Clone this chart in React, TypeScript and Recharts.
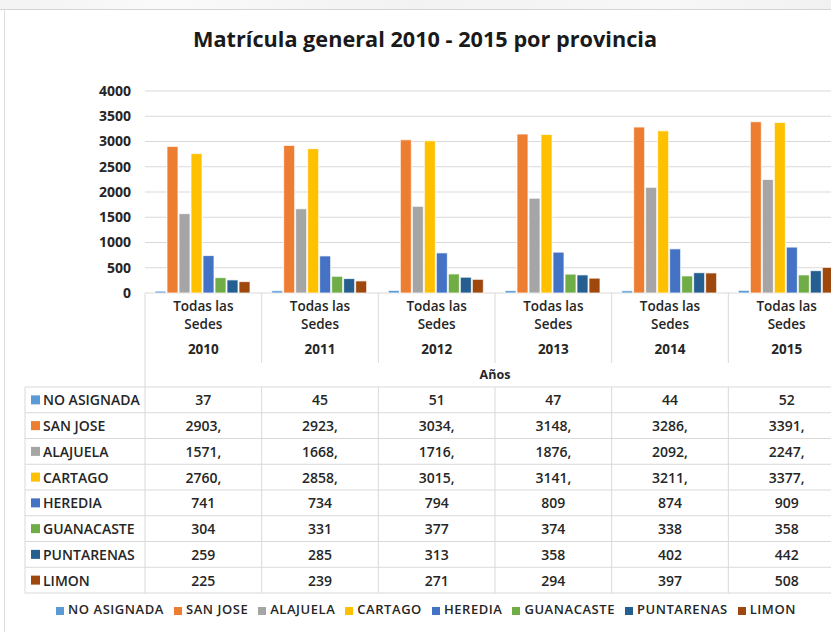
import React from "react";
import { BarChart, Bar, XAxis, YAxis, CartesianGrid, Legend } from "recharts";

// categories and tick labels
const years = ["2010", "2011", "2012", "2013", "2014", "2015"];
const sedeLines = ["Todas las", "Sedes"];
const yTicks = [0, 500, 1000, 1500, 2000, 2500, 3000, 3500, 4000];

// series values
const noAsignada = [37, 45, 51, 47, 44, 52];
const sanJose = [2903, 2923, 3034, 3148, 3286, 3391];
const alajuela = [1571, 1668, 1716, 1876, 2092, 2247];
const cartago = [2760, 2858, 3015, 3141, 3211, 3377];
const heredia = [741, 734, 794, 809, 874, 909];
const guanacaste = [304, 331, 377, 374, 338, 358];
const puntarenas = [259, 285, 313, 358, 402, 442];
const limon = [225, 239, 271, 294, 397, 508];

const series = [
  { key: "noAsignada", name: "NO ASIGNADA", color: "#5B9BD5", values: noAsignada },
  { key: "sanJose", name: "SAN JOSE", color: "#ED7D31", values: sanJose },
  { key: "alajuela", name: "ALAJUELA", color: "#A5A5A5", values: alajuela },
  { key: "cartago", name: "CARTAGO", color: "#FFC000", values: cartago },
  { key: "heredia", name: "HEREDIA", color: "#4472C4", values: heredia },
  { key: "guanacaste", name: "GUANACASTE", color: "#70AD47", values: guanacaste },
  { key: "puntarenas", name: "PUNTARENAS", color: "#255E91", values: puntarenas },
  { key: "limon", name: "LIMON", color: "#9E480E", values: limon },
];

const data = years.map((year, i) => {
  const row: Record<string, string | number> = { year };
  series.forEach(s => { row[s.key] = s.values[i]; });
  return row;
});

// layout
const CHART_W = 846;
const CHART_H = 632;
const PLOT_LEFT = 145;
const PLOT_TOP = 91;
const PLOT_BOTTOM = 293;
const Y_AXIS_W = 60;
const BAND = (CHART_W - 1 - PLOT_LEFT) / years.length;
const TABLE_TOP = 387;
const ROW_H = 25.75;
const TABLE_BOTTOM = TABLE_TOP + ROW_H * series.length;
const LINE = "#d9d9d9";
const TEXT = "#262626";
const FONT = "'Open Sans', 'Noto Sans', sans-serif";

// Excel shows truncated decimals as "2903,"
const fmt = (v: number) => (v >= 1000 ? `${v},` : `${v}`);

function YearTick(props: any) {
  const { x, y, payload, index } = props;
  const left = x - BAND / 2;
  return (
    <g>
      <line x1={left} x2={left} y1={y} y2={index === 0 ? TABLE_TOP : 363} stroke={LINE} />
      {sedeLines.map((t, k) => (
        <text key={k} x={x} y={306 + k * 18} textAnchor="middle" dominantBaseline="central"
          fontSize={13.5} fontWeight={600} fill={TEXT} fontFamily={FONT}>{t}</text>
      ))}
      <text x={x} y={349} textAnchor="middle" dominantBaseline="central"
        fontSize={13.5} fontWeight={700} fill={TEXT} fontFamily={FONT}>{payload.value}</text>
      <line x1={left} x2={left} y1={TABLE_TOP} y2={TABLE_BOTTOM} stroke={LINE} />
      {series.map((s, r) => (
        <text key={s.key} x={x} y={TABLE_TOP + ROW_H * (r + 0.5)} textAnchor="middle" dominantBaseline="central"
          fontSize={14} fontWeight={600} fill={TEXT} fontFamily={FONT}>{fmt(s.values[index])}</text>
      ))}
    </g>
  );
}

function Overlay() {
  return (
    <svg width={CHART_W} height={CHART_H} style={{ position: "absolute", left: 0, top: 0, pointerEvents: "none" }}>
      <text x={425} y={47} textAnchor="middle" fontSize={21} fontWeight={700} fill="#1a1a1a"
        fontFamily={FONT} textLength={464} lengthAdjust="spacingAndGlyphs">
        Matrícula general 2010 - 2015 por provincia
      </text>
      <text x={(PLOT_LEFT + CHART_W - 1) / 2} y={374} textAnchor="middle" dominantBaseline="central"
        fontSize={12.5} fontWeight={700} fill={TEXT} fontFamily={FONT}>Años</text>
      {series.map((s, r) => (
        <line key={`h${r}`} x1={25} x2={CHART_W} y1={TABLE_TOP + ROW_H * r} y2={TABLE_TOP + ROW_H * r} stroke={LINE} />
      ))}
      <line x1={25} x2={CHART_W} y1={TABLE_BOTTOM} y2={TABLE_BOTTOM} stroke={LINE} />
      <line x1={25} x2={25} y1={TABLE_TOP} y2={TABLE_BOTTOM} stroke={LINE} />
      {series.map((s, r) => {
        const cy = TABLE_TOP + ROW_H * (r + 0.5);
        return (
          <g key={s.key}>
            <rect x={31} y={cy - 4.5} width={9} height={9} fill={s.color} />
            <text x={43} y={cy} dominantBaseline="central" fontSize={14} fontWeight={600}
              fill={TEXT} fontFamily={FONT}>{s.name}</text>
          </g>
        );
      })}
    </svg>
  );
}

export default function App() {
  return (
    <div style={{ position: "fixed", left: 0, top: 0, width: 831, height: 632, overflow: "hidden", background: "#fff", fontFamily: FONT }}>
      <div style={{ position: "absolute", left: 0, top: 0, width: 831, height: 9, background: "linear-gradient(90deg, #f3f3f3, #fafafa 20%, #f2f2f2 50%, #f8f8f8 80%, #f1f1f1)", borderBottom: "1px solid #d4d4d4" }} />
      <div style={{ position: "absolute", left: 4, top: 10, width: 1, height: 622, background: "#dedede" }} />
      <div style={{ position: "absolute", left: 0, top: 0 }}>
        <BarChart width={CHART_W} height={CHART_H} data={data}
          margin={{ top: PLOT_TOP, right: 1, left: PLOT_LEFT - Y_AXIS_W, bottom: 0 }}
          barCategoryGap={10} barGap={1}>
          <CartesianGrid vertical={false} stroke={LINE} />
          <XAxis dataKey="year" height={CHART_H - PLOT_BOTTOM} axisLine={false} tickLine={false}
            tickSize={0} tickMargin={0} interval={0} tick={<YearTick />} />
          <YAxis width={Y_AXIS_W} domain={[0, 4000]} ticks={yTicks} axisLine={false} tickLine={false}
            tickSize={0} tickMargin={14} interval={0}
            tick={{ fontSize: 14, fontWeight: 700, fill: TEXT, fontFamily: FONT }} />
          <Legend layout="horizontal" verticalAlign="middle" align="center" iconType="square" iconSize={8}
            itemSorter={(item: any) => series.findIndex(s => s.name === item.value)}
            wrapperStyle={{ top: 601, left: 18, width: CHART_W - 20, fontSize: 13, fontWeight: 600, letterSpacing: "0.55px", lineHeight: "16px" }}
            formatter={(value: string) => <span style={{ color: TEXT }}>{value}</span>} />
          {series.map(s => (
            <Bar key={s.key} dataKey={s.key} name={s.name} fill={s.color} stroke="#fff" strokeWidth={0.75}
              isAnimationActive={false} />
          ))}
        </BarChart>
      </div>
      <Overlay />
    </div>
  );
}
